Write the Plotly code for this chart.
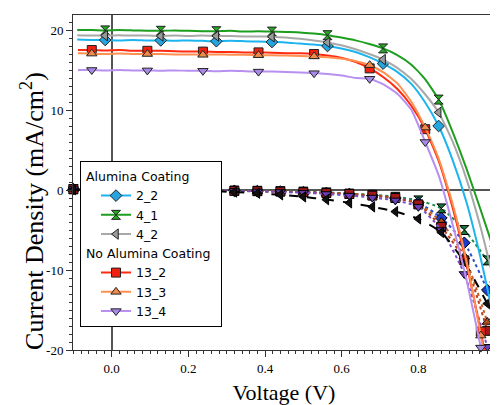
import plotly.graph_objects as go

# ---------------- data ----------------
# Illuminated J-V curves, "Alumina Coating" samples
V_alumina = [-0.090, -0.053, -0.017, 0.019, 0.056, 0.092, 0.128, 0.164, 0.201, 0.237,
             0.273, 0.309, 0.346, 0.382, 0.418, 0.454, 0.491, 0.527, 0.563, 0.599,
             0.636, 0.672, 0.708, 0.744, 0.781, 0.817, 0.853, 0.889, 0.926, 0.962, 0.998]
J_2_2 = [18.8, 18.75, 18.75, 18.7, 18.75, 18.7, 18.7, 18.65, 18.7, 18.65,
         18.6, 18.65, 18.6, 18.55, 18.5, 18.45, 18.3, 18.2, 18.0, 17.7,
         17.25, 16.6, 15.8, 14.8, 13.3, 11.0, 8.0, 3.8, -1.6, -8.4, -16.3]
J_4_1 = [20.0, 20.0, 19.95, 20.0, 19.95, 19.9, 19.9, 19.95, 19.9, 19.85,
         19.85, 19.9, 19.8, 19.85, 19.8, 19.75, 19.7, 19.55, 19.35, 19.05,
         18.7, 18.25, 17.7, 16.9, 15.7, 13.9, 11.3, 7.3, 2.6, -2.4, -7.6]
J_4_2 = [19.35, 19.3, 19.3, 19.35, 19.3, 19.3, 19.25, 19.3, 19.25, 19.3,
         19.25, 19.25, 19.2, 19.2, 19.15, 19.05, 18.9, 18.7, 18.45, 18.1,
         17.6, 17.0, 16.3, 15.3, 13.9, 12.0, 9.7, 6.1, 1.3, -4.6, -11.5]

# Illuminated J-V curves, "No Alumina Coating" samples
V_plain = [-0.088, -0.052, -0.016, 0.021, 0.057, 0.093, 0.129, 0.166, 0.202, 0.238,
           0.274, 0.311, 0.347, 0.383, 0.419, 0.456, 0.492, 0.528, 0.564, 0.601,
           0.637, 0.673, 0.709, 0.746, 0.782, 0.818, 0.854, 0.891, 0.927, 0.963, 0.999]
J_13_2 = [17.5, 17.5, 17.45, 17.5, 17.4, 17.4, 17.4, 17.35, 17.3, 17.3,
          17.25, 17.25, 17.2, 17.2, 17.15, 17.1, 17.1, 17.0, 16.8, 16.5,
          16.0, 15.2, 14.1, 12.6, 10.5, 7.6, 3.5, -2.5, -9.5, -17.7, -27.0]
J_13_3 = [17.1, 17.05, 17.0, 17.05, 17.0, 17.0, 17.0, 16.95, 16.95, 16.9,
          16.95, 16.9, 16.9, 16.85, 16.85, 16.8, 16.75, 16.7, 16.6, 16.4,
          16.1, 15.6, 14.7, 13.3, 11.0, 7.8, 3.8, -2.0, -9.2, -18.2, -28.0]
J_13_4 = [15.0, 15.0, 14.95, 15.0, 14.95, 14.95, 14.9, 14.95, 14.9, 14.9,
          14.85, 14.9, 14.85, 14.8, 14.8, 14.75, 14.7, 14.6, 14.5, 14.3,
          14.0, 13.9, 13.2, 12.0, 10.0, 6.0, 1.7, -4.6, -11.5, -19.7, -29.0]

# indices of the points that carry a marker
alumina_marker_idx = [2, 6, 10, 14, 18, 22, 26, 30]
plain_marker_idx = [1, 5, 9, 13, 17, 21, 25, 29]

# Dark J-V curves
V_dark = [-0.10, -0.04, 0.02, 0.08, 0.14, 0.20, 0.26, 0.32, 0.38, 0.44,
          0.50, 0.56, 0.62, 0.68, 0.74, 0.80, 0.86, 0.92, 0.98]
Jd_4_1 = [0.1, 0.05, 0.0, 0.0, -0.02, -0.03, -0.05, -0.08, -0.1, -0.15,
          -0.2, -0.3, -0.45, -0.6, -0.85, -1.3, -2.3, -5.0, -8.8]
Jd_2_2 = [0.1, 0.05, 0.0, -0.02, -0.03, -0.05, -0.07, -0.1, -0.15, -0.2,
          -0.28, -0.38, -0.5, -0.7, -1.0, -1.6, -3.5, -6.6, -12.5]
Jd_4_2 = [0.05, 0.0, -0.03, -0.05, -0.08, -0.1, -0.15, -0.25, -0.4, -0.6,
          -0.85, -1.2, -1.6, -2.1, -2.7, -3.6, -5.3, -9.0, -14.2]
Jd_13_2 = [0.1, 0.05, 0.0, -0.02, -0.03, -0.05, -0.08, -0.1, -0.15, -0.2,
           -0.28, -0.38, -0.5, -0.7, -1.0, -1.8, -4.6, -8.8, -17.6]
Jd_13_3 = [0.1, 0.05, 0.0, -0.02, -0.03, -0.05, -0.08, -0.1, -0.15, -0.2,
           -0.28, -0.38, -0.5, -0.7, -1.0, -1.7, -4.0, -8.3, -16.5]
Jd_13_4 = [0.1, 0.05, 0.0, -0.02, -0.03, -0.05, -0.08, -0.12, -0.18, -0.25,
           -0.35, -0.5, -0.7, -0.95, -1.3, -2.1, -5.0, -10.5, -19.6]

x_tickvals = [0.0, 0.2, 0.4, 0.6, 0.8, 1.0]
x_ticktext = ["0.0", "0.2", "0.4", "0.6", "0.8", "1.0"]
y_tickvals = [-20, -10, 0, 10, 20]
y_ticktext = ["-20", "-10", "0", "10", "20"]

x_title = "Voltage (V)"
y_title = "Current Density (mA/cm<sup>2</sup>)"
group_titles = {"a": "Alumina Coating", "b": "No Alumina Coating"}

SERIF = "Liberation Serif, Times New Roman, serif"

# ---------------- styles ----------------
dark_series = [
    (V_dark, Jd_4_1, "#1a8a4a", "dot", "hourglass", "#177a3a"),
    (V_dark, Jd_2_2, "#2a4ed0", "dot", "diamond", "#1c3cc8"),
    (V_dark, Jd_13_3, "#c0602a", "dot", "triangle-up", "#b05020"),
    (V_dark, Jd_13_2, "#b8401c", "dot", "square", "#a01818"),
    (V_dark, Jd_13_4, "#7a50d0", "dot", "triangle-down", "#6a40b8"),
    (V_dark, Jd_4_2, "#000000", "dash", "triangle-left", "#111111"),
]

light_series = [
    ("2_2", "a", V_alumina, J_2_2, alumina_marker_idx, "#1cb4ef", "diamond", "#25a5e0"),
    ("4_1", "a", V_alumina, J_4_1, alumina_marker_idx, "#1e9e1e", "hourglass", "#22aa22"),
    ("4_2", "a", V_alumina, J_4_2, alumina_marker_idx, "#a8a8a8", "triangle-left", "#9a9a9a"),
    ("13_2", "b", V_plain, J_13_2, plain_marker_idx, "#ff2a10", "square", "#f02010"),
    ("13_3", "b", V_plain, J_13_3, plain_marker_idx, "#ff9050", "triangle-up", "#f08a4a"),
    ("13_4", "b", V_plain, J_13_4, plain_marker_idx, "#b890f0", "triangle-down", "#a888e8"),
]

fig = go.Figure()

for v, j, lc, dash, sym, fc in dark_series:
    fig.add_trace(go.Scatter(
        x=v, y=j, mode="lines+markers", showlegend=False, cliponaxis=False,
        line=dict(color=lc, width=2, dash=dash, shape="spline", smoothing=0.6),
        marker=dict(symbol=sym, size=9, color=fc, line=dict(color="black", width=1)),
        hoverinfo="skip"))

for name, grp, v, j, idx, lc, sym, fc in light_series:
    fig.add_trace(go.Scatter(
        x=v, y=j, mode="lines", showlegend=False,
        line=dict(color=lc, width=2, shape="spline", smoothing=0.5),
        hoverinfo="skip"))
    fig.add_trace(go.Scatter(
        x=[v[i] for i in idx], y=[j[i] for i in idx], mode="markers",
        showlegend=False, cliponaxis=False,
        marker=dict(symbol=sym, size=9, color=fc, line=dict(color="#222", width=1)),
        hoverinfo="skip"))

# legend entries
for name, grp, v, j, idx, lc, sym, fc in light_series:
    fig.add_trace(go.Scatter(
        x=[None], y=[None], mode="lines+markers", name=name,
        legendgroup=grp, legendgrouptitle=dict(text=group_titles[grp]),
        line=dict(color=lc, width=2),
        marker=dict(symbol=sym, size=9, color=fc, line=dict(color="#222", width=1))))

axis_common = dict(
    showgrid=False, showline=True, linecolor="#333", linewidth=1, mirror=True,
    ticks="outside", ticklen=6, tickcolor="#333", tickwidth=1,
    zeroline=True, zerolinecolor="#555", zerolinewidth=1.5,
    automargin=False,
    tickfont=dict(family=SERIF, size=13, color="black"),
)

fig.update_xaxes(
    range=[-0.101, 1.0], tickvals=x_tickvals, ticktext=x_ticktext,
    minor=dict(dtick=0.02, tick0=0, ticks="outside", ticklen=3, tickcolor="#333"),
    title=dict(text=x_title, standoff=18,
               font=dict(family=SERIF, size=22, color="black")),
    **axis_common)
fig.update_yaxes(
    range=[-20, 21.875], tickvals=y_tickvals, ticktext=y_ticktext,
    minor=dict(dtick=1, tick0=0, ticks="outside", ticklen=3, tickcolor="#333"),
    **axis_common)

fig.add_annotation(
    text=y_title, textangle=-90, xref="paper", yref="paper",
    x=-0.095, y=0.415, xanchor="center", yanchor="middle", showarrow=False,
    font=dict(family=SERIF, size=26, color="black"))

# the page body adds an 8px offset, so the figure is 8px smaller than the window
fig.update_layout(
    width=490, height=397,
    margin=dict(l=65, r=3, t=7, b=55),
    paper_bgcolor="white", plot_bgcolor="white",
    font=dict(family=SERIF, size=13, color="black"),
    legend=dict(x=0.0166, y=0.565, xanchor="left", yanchor="top",
                bordercolor="black", borderwidth=1, bgcolor="white",
                font=dict(family="DejaVu Sans", size=12.5, color="black"),
                grouptitlefont=dict(family="DejaVu Sans", size=12.5, color="black"),
                tracegroupgap=0, itemwidth=30, indentation=15),
)

fig.write_html("out.html")
